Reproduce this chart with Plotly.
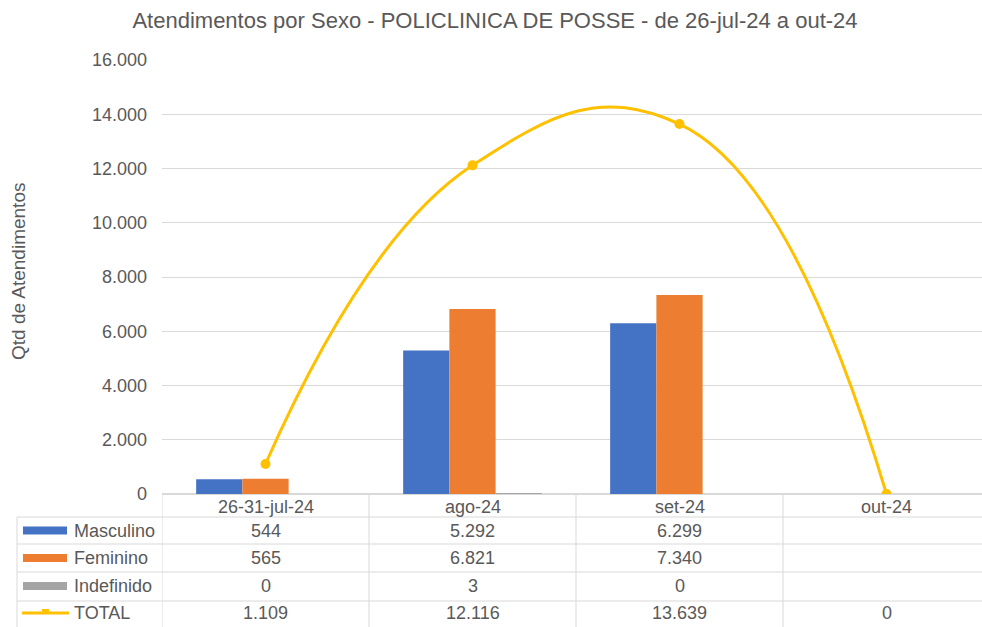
import plotly.graph_objects as go

categories = ["26-31-jul-24", "ago-24", "set-24", "out-24"]
masculino = [544, 5292, 6299, None]
feminino = [565, 6821, 7340, None]
indefinido = [0, 3, 0, None]
total = [1109, 12116, 13639, 0]
y_ticks = [0, 2000, 4000, 6000, 8000, 10000, 12000, 14000, 16000]

series = [
    ("Masculino", masculino, "#4472C4"),
    ("Feminino", feminino, "#ED7D31"),
    ("Indefinido", indefinido, "#A5A5A5"),
]
line_color = "#FFC000"
text_color = "#595959"
grid_color = "#D9D9D9"
font_family = "Liberation Sans, Arial, sans-serif"

W, H = 990, 627
PLOT_LEFT, PLOT_TOP, PLOT_BOT = 162, 60, 494
ML = PLOT_LEFT
MT = PLOT_TOP
MB = H - PLOT_BOT
MR = 0
plot_h = PLOT_BOT - PLOT_TOP
plot_w = W - ML - MR
COL_W = 207


def py(ywin):
    return (PLOT_BOT - ywin) / plot_h


def px(xwin):
    return (xwin - PLOT_LEFT) / plot_w


fig = go.Figure()
for name, vals, col in series:
    fig.add_trace(go.Bar(x=categories, y=vals, name=name, marker_color=col,
                         marker_line_width=0))
fig.add_trace(go.Scatter(x=categories, y=total, name="TOTAL", mode="lines+markers",
                         line=dict(color=line_color, width=3, shape="spline", smoothing=1.3),
                         marker=dict(color=line_color, size=10)))

shapes = []
annotations = []
line_style = dict(color=grid_color, width=1)

header_top, header_bot = 494, 517
row_edges = [517, 544, 572, 601, 640]
row_centers = [530.5, 558, 586, 613]
left_px = 17
FS = 18

for ye in row_edges[:-1]:
    shapes.append(dict(type="line", xref="paper", yref="paper", x0=px(left_px), x1=1.02,
                       y0=py(ye), y1=py(ye), line=line_style))
shapes.append(dict(type="line", xref="paper", yref="paper", x0=px(left_px), x1=px(left_px),
                   y0=py(row_edges[0]), y1=py(row_edges[-1]), line=line_style))
for i in range(len(categories)):
    xb = i - 0.5
    shapes.append(dict(type="line", xref="x", yref="paper", x0=xb, x1=xb,
                       y0=py(header_top), y1=py(row_edges[-1]), line=line_style))

for i, c in enumerate(categories):
    annotations.append(dict(x=c, xref="x", y=py((header_top + header_bot) / 2 + 1), yref="paper",
                            text=c, showarrow=False, xanchor="center", yanchor="middle",
                            font=dict(size=FS, color=text_color)))


def fmt(v):
    if v is None:
        return ""
    return f"{v:,}".replace(",", ".")


rows = [(n, v, c, "bar") for n, v, c in series] + [("TOTAL", total, line_color, "line")]
for r, (name, vals, col, kind) in enumerate(rows):
    yc = row_centers[r]
    if kind == "bar":
        shapes.append(dict(type="rect", xref="paper", yref="paper", x0=px(23), x1=px(67),
                           y0=py(yc + 4), y1=py(yc - 4), fillcolor=col, line=dict(width=0)))
    else:
        shapes.append(dict(type="line", xref="paper", yref="paper", x0=px(22), x1=px(69),
                           y0=py(yc), y1=py(yc), line=dict(color=col, width=3)))
        shapes.append(dict(type="rect", xref="paper", yref="paper", x0=px(42), x1=px(49),
                           y0=py(yc + 1), y1=py(yc - 4), fillcolor=col, line=dict(width=0)))
    annotations.append(dict(x=px(72), xref="paper", y=py(yc), yref="paper", text=name,
                            xanchor="left", yanchor="middle", showarrow=False,
                            font=dict(size=FS, color=text_color)))
    for i, c in enumerate(categories):
        annotations.append(dict(x=c, xref="x", y=py(yc), yref="paper", text=fmt(vals[i]),
                                xanchor="center", yanchor="middle", showarrow=False,
                                font=dict(size=FS, color=text_color)))

annotations.append(dict(x=px(18), xref="paper", y=py(272), yref="paper",
                        text="Qtd de Atendimentos", textangle=-90, showarrow=False,
                        xanchor="center", yanchor="middle",
                        font=dict(size=19, color=text_color)))

fig.update_layout(
    width=W, height=H,
    margin=dict(l=ML, r=MR, t=MT, b=MB),
    paper_bgcolor="white", plot_bgcolor="white",
    font=dict(family=font_family, color=text_color, size=FS),
    title=dict(text="Atendimentos por Sexo - POLICLINICA DE POSSE - de 26-jul-24 a out-24",
               x=495 / W, xref="container", xanchor="center",
               y=1 - 20 / H, yref="container", yanchor="middle",
               font=dict(size=22, color=text_color)),
    separators=",.",
    barmode="group", bargap=0.33, bargroupgap=0,
    showlegend=False,
    shapes=shapes, annotations=annotations,
    xaxis=dict(type="category", range=[-0.5, -0.5 + plot_w / COL_W], showticklabels=False,
               showgrid=False, showline=False, zeroline=False, fixedrange=True),
    yaxis=dict(range=[0, 16000], tickvals=y_ticks, tickformat=",d", showgrid=True,
               gridcolor=grid_color, gridwidth=1, zeroline=True, zerolinecolor=grid_color,
               ticks="", ticklabelstandoff=14, tickfont=dict(size=FS, color=text_color)),
)

fig.write_html(
    "out.html",
    config={"displayModeBar": False},
    post_script="document.body.style.margin='0';document.documentElement.style.overflow='hidden';document.body.style.overflow='hidden';",
)
